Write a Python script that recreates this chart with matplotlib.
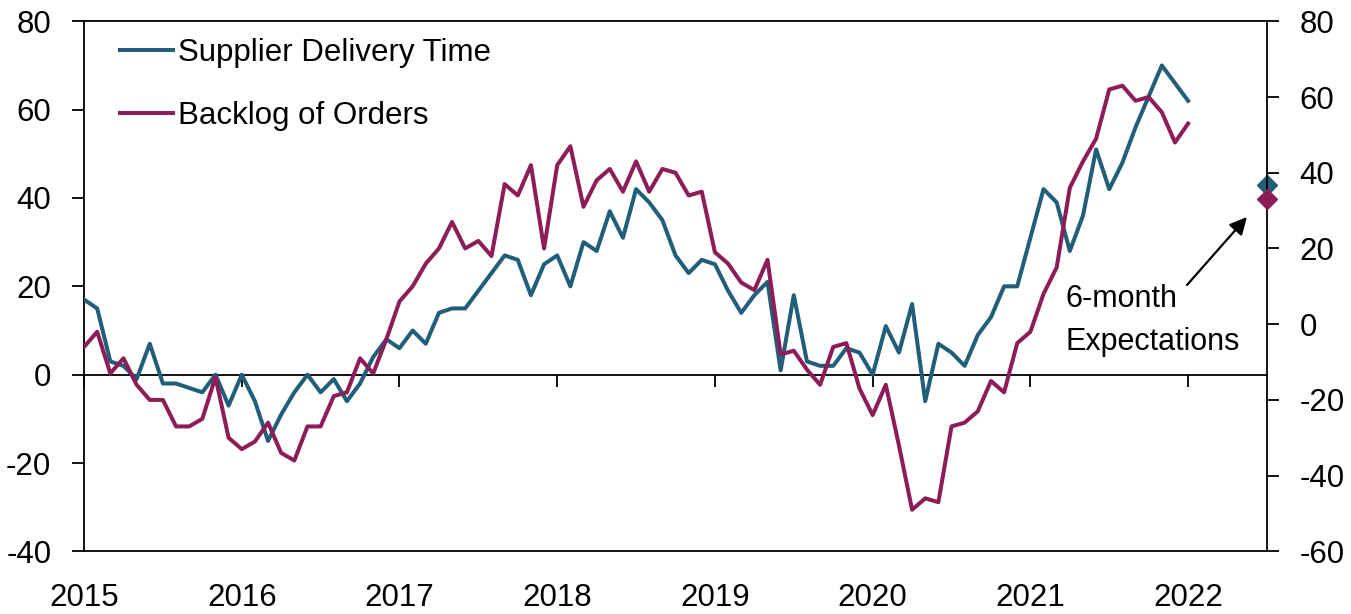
import matplotlib
matplotlib.use("Agg")
import matplotlib.pyplot as plt
import numpy as np
import pandas as pd

plt.rcParams['font.family'] = ['Liberation Sans', 'DejaVu Sans']

# ---- data (monthly, Jan 2015 - Jan 2022) ----
months = pd.date_range('2015-01-01', periods=85, freq='MS')
supplier_delivery = [
    17, 15, 3, 2, -1, 7, -2, -2, -3, -4, 0, -7,        # 2015
    0, -6, -15, -9, -4, 0, -4, -1, -6, -2, 4, 8,        # 2016
    6, 10, 7, 14, 15, 15, 19, 23, 27, 26, 18, 25,       # 2017
    27, 20, 30, 28, 37, 31, 42, 39, 35, 27, 23, 26,     # 2018
    25, 19, 14, 18, 21, 1, 18, 3, 2, 2, 6, 5,           # 2019
    0, 11, 5, 16, -6, 7, 5, 2, 9, 13, 20, 20,           # 2020
    31, 42, 39, 28, 36, 51, 42, 48, 56, 63, 70, 66,     # 2021
    62,                                                 # 2022
]
backlog_orders = [
    -6, -2, -13, -9, -16, -20, -20, -27, -27, -25, -14, -30,   # 2015
    -33, -31, -26, -34, -36, -27, -27, -19, -18, -9, -13, -4,  # 2016
    6, 10, 16, 20, 27, 20, 22, 18, 37, 34, 42, 20,             # 2017
    42, 47, 31, 38, 41, 35, 43, 35, 41, 40, 34, 35,            # 2018
    19, 16, 11, 9, 17, -8, -7, -12, -16, -6, -5, -17,          # 2019
    -24, -16, -32, -49, -46, -47, -27, -26, -23, -15, -18, -5, # 2020
    -2, 8, 15, 36, 43, 49, 62, 63, 59, 60, 56, 48,             # 2021
    53,                                                        # 2022
]
expect_x = [2022.5]
expect_supplier = [43]   # left axis
expect_backlog = [33]    # right axis

year_ticks = [2015, 2016, 2017, 2018, 2019, 2020, 2021, 2022]
year_labels = [str(y) for y in year_ticks]
left_ticks = [-40, -20, 0, 20, 40, 60, 80]
right_ticks = [-60, -40, -20, 0, 20, 40, 60, 80]

x = months.year + (months.month - 1) / 12.0

c_blue = '#215E79'
c_purple = '#8D1D58'
FS = 22.5

fig = plt.figure(figsize=(13.51, 6.14), dpi=100)
ax = fig.add_axes([0.0622, 0.1020, 0.8756, 0.8633])
ax2 = ax.twinx()

l1, = ax.plot(x, supplier_delivery, color=c_blue, lw=2.9, label='Supplier Delivery Time', zorder=3)
l2, = ax2.plot(x, backlog_orders, color=c_purple, lw=2.9, label='Backlog of Orders', zorder=3)

ax.plot(expect_x, expect_supplier, 'D', color=c_blue, ms=10.5, clip_on=False, zorder=5)
ax2.plot(expect_x, expect_backlog, 'D', color=c_purple, ms=10.5, clip_on=False, zorder=5)

ax.set_xlim(2015, 2022.5)
ax.set_ylim(-40, 80)
ax2.set_ylim(-60, 80)

lw_sp = 1.3
for s in ['left', 'top', 'bottom']:
    ax.spines[s].set_linewidth(lw_sp)
ax.spines['right'].set_visible(False)
ax.spines['bottom'].set_position(('data', 0))
for s in ['left', 'top', 'bottom']:
    ax2.spines[s].set_visible(False)
ax2.spines['right'].set_linewidth(lw_sp)

ax.set_yticks(left_ticks)
ax.set_yticklabels([str(v) for v in left_ticks])
ax.tick_params(axis='y', direction='out', length=8.6, width=lw_sp, pad=15, labelsize=FS)
ax2.set_yticks(right_ticks)
ax2.set_yticklabels([str(v) for v in right_ticks])
ax2.tick_params(axis='y', direction='out', length=8.6, width=lw_sp, pad=15, labelsize=FS)

ax.set_xticks(year_ticks)
ax.tick_params(axis='x', direction='out', length=8.6, width=lw_sp, labelbottom=False)

sec = ax.secondary_xaxis(0)
sec.set_xticks(year_ticks)
sec.set_xticklabels(year_labels)
sec.tick_params(axis='x', length=0, pad=23, labelsize=FS)
sec.spines['bottom'].set_linewidth(lw_sp)

ax2.legend(handles=[l1, l2], loc='upper left', bbox_to_anchor=(0.0304, 0.968),
           frameon=False, fontsize=FS, handlelength=1.7, handletextpad=0.16,
           labelspacing=1.05, borderpad=0, borderaxespad=0)

ax.text(2021.22, 20.6, '6-month\nExpectations', ha='left', va='top',
        fontsize=22, linespacing=1.6)
ax.annotate('', xy=(2022.373, 35.7), xytext=(2021.993, 20.3),
            arrowprops=dict(arrowstyle='-|>', color='black', lw=1.6,
                            mutation_scale=26, shrinkA=0, shrinkB=0))

fig.savefig('out.png', dpi=100)
